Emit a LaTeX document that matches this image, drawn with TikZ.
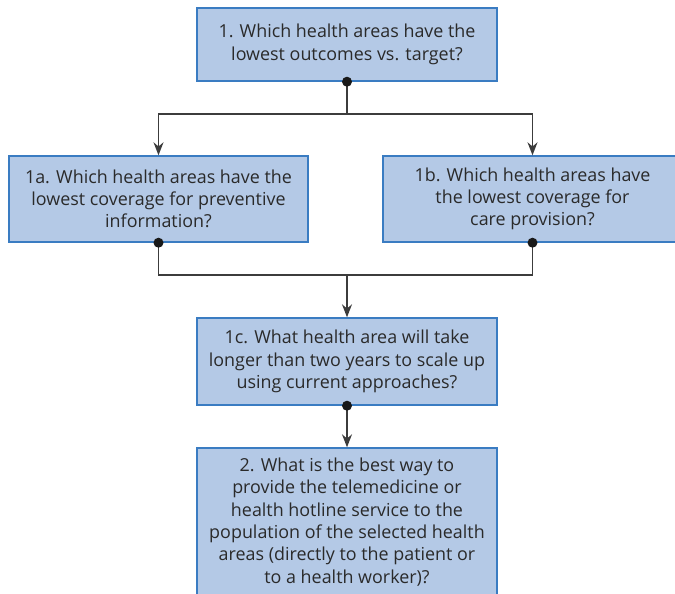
\documentclass[tikz,border=0pt]{standalone}
\usepackage{fontspec}
\setmainfont{Open Sans}
\usetikzlibrary{arrows.meta}
\definecolor{boxfill}{HTML}{B4C9E6}
\definecolor{boxline}{HTML}{3A7CC2}
\definecolor{inktext}{HTML}{2A2A2A}
\definecolor{wire}{HTML}{3C3C3C}
\tikzset{
  qbox/.style={draw=boxline, line width=1.4pt, fill=boxfill, text=inktext,
    align=center, inner sep=0pt, font=\fontsize{17.9}{22.3}\selectfont},
  wireline/.style={draw=wire, line width=1.4pt},
  arrowline/.style={wireline, -{Stealth[length=13pt,width=10pt]}},
  dot/.style={circle, fill=black!90, inner sep=0pt, minimum size=10pt}
}
\begin{document}
\begin{tikzpicture}[x=1pt,y=-1pt]
\useasboundingbox (0,0) rectangle (675,594);
\clip (0,0) rectangle (675,594);

% question boxes
\node[qbox, minimum width=300pt, minimum height=73pt] (q1) at (347,44.5)
  {1. Which health areas have the\\lowest outcomes vs. target?};
\node[qbox, minimum width=299pt, minimum height=86pt] (q1a) at (158.5,199)
  {1a. Which health areas have the\\lowest coverage for preventive\\information?};
\node[qbox, minimum width=299pt, minimum height=86pt] (q1b) at (532.5,199)
  {1b. Which health areas have\\the lowest coverage for\\care provision?};
\node[qbox, minimum width=300pt, minimum height=87pt] (q1c) at (347,361.5)
  {1c. What health area will take\\longer than two years to scale up\\using current approaches?};
\node[qbox, minimum width=300pt, minimum height=148pt] (q2) at (347,522)
  {2. What is the best way to\\provide the telemedicine or\\health hotline service to the\\population of the selected health\\areas (directly to the patient or\\to a health worker)?};

% branching points
\coordinate (split) at (347,114);
\coordinate (merge) at (347,275);

% connectors
\draw[wireline] (q1.south) -- (split);
\draw[arrowline] (split) -| (q1a.north);
\draw[arrowline] (split) -| (q1b.north);
\draw[wireline] (q1a.south) |- (merge);
\draw[wireline] (q1b.south) |- (merge);
\draw[arrowline] (merge) -- (q1c.north);
\draw[arrowline] (q1c.south) -- (q2.north);

% start dots
\node[dot] at (q1.south) {};
\node[dot] at (q1a.south) {};
\node[dot] at (q1b.south) {};
\node[dot] at (q1c.south) {};
\end{tikzpicture}
\end{document}
